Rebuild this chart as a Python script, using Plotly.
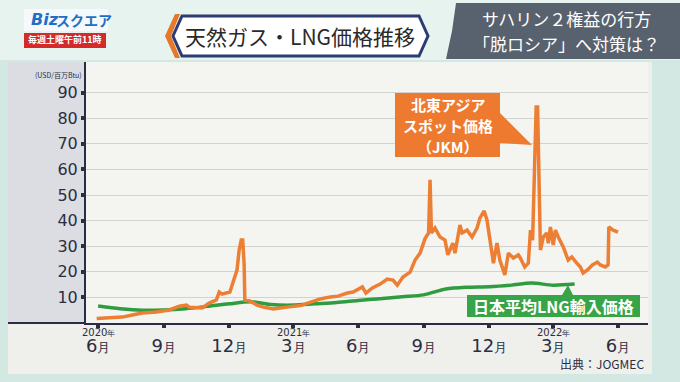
import plotly.graph_objects as go

# ---------------- data ----------------
jkm_dates = [
    "2020-06-29", "2020-07-17", "2020-08-04", "2020-08-18", "2020-09-01", "2020-09-21",
    "2020-10-09", "2020-10-23", "2020-11-02", "2020-11-06", "2020-11-24", "2020-12-04",
    "2020-12-14", "2020-12-18", "2020-12-22", "2021-01-02", "2021-01-06", "2021-01-12",
    "2021-01-15", "2021-01-18", "2021-01-20", "2021-01-22", "2021-01-23", "2021-01-30",
    "2021-02-09", "2021-02-18", "2021-03-04", "2021-03-13", "2021-03-23", "2021-04-11",
    "2021-04-25", "2021-05-09", "2021-05-23", "2021-06-03", "2021-06-16", "2021-06-24",
    "2021-07-07", "2021-07-12", "2021-07-21", "2021-08-01", "2021-08-11", "2021-08-19",
    "2021-08-25", "2021-09-02", "2021-09-12", "2021-09-19", "2021-09-26", "2021-10-03",
    "2021-10-08", "2021-10-10", "2021-10-12", "2021-10-17", "2021-10-24", "2021-10-31",
    "2021-11-04", "2021-11-11", "2021-11-14", "2021-11-21", "2021-11-24", "2021-12-01",
    "2021-12-08", "2021-12-15", "2021-12-19", "2021-12-25", "2021-12-29", "2022-01-02",
    "2022-01-07", "2022-01-12", "2022-01-16", "2022-01-23", "2022-01-28", "2022-02-04",
    "2022-02-11", "2022-02-13", "2022-02-20", "2022-02-25", "2022-02-28", "2022-03-03",
    "2022-03-05", "2022-03-08", "2022-03-10", "2022-03-12", "2022-03-14", "2022-03-18",
    "2022-03-23", "2022-03-25", "2022-03-28", "2022-04-01", "2022-04-04", "2022-04-08",
    "2022-04-15", "2022-04-22", "2022-04-27", "2022-05-04", "2022-05-09", "2022-05-13",
    "2022-05-19", "2022-05-26", "2022-06-02", "2022-06-06", "2022-06-13", "2022-06-17",
    "2022-06-18", "2022-06-24", "2022-07-01",
]
jkm_values = [
    1.8, 2.0, 2.3, 3.1, 3.9, 4.3,
    5.1, 6.6, 7.0, 6.2, 5.9, 7.8,
    9.0, 12.1, 11.3, 12.1, 15.6, 20.7,
    28.5, 32.4, 32.4, 23.0, 9.0, 8.6,
    7.0, 6.2, 5.5, 5.9, 6.2, 6.8,
    8.2, 9.4, 10.2, 10.5, 11.7, 12.1,
    14.1, 11.7, 13.7, 15.2, 17.2, 16.8,
    14.8, 18.0, 19.9, 24.6, 27.3, 33.0,
    35.2, 56.0, 35.2, 37.1, 33.6, 32.4,
    26.6, 31.2, 27.3, 38.3, 35.2, 36.3,
    33.6, 37.1, 41.0, 43.8, 40.2, 32.4,
    23.4, 31.2, 24.6, 18.8, 27.3, 25.4,
    26.6, 25.8, 21.9, 23.4, 36.3, 32.4,
    58.6, 84.4, 84.4, 52.0, 28.5, 33.6,
    35.2, 31.2, 37.5, 30.5, 36.3, 33.6,
    29.7, 24.6, 25.8, 23.4, 21.9, 19.5,
    20.7, 22.7, 23.8, 22.7, 21.9, 22.7,
    37.5, 36.3, 35.5,
]

lng_dates = [
    "2020-07-01", "2020-08-01", "2020-09-01", "2020-10-01", "2020-11-01", "2020-12-01",
    "2021-01-01", "2021-02-01", "2021-03-01", "2021-04-01", "2021-05-01", "2021-06-01",
    "2021-07-01", "2021-08-01", "2021-09-01", "2021-10-01", "2021-11-01", "2021-12-01",
    "2022-01-01", "2022-02-01", "2022-03-01", "2022-04-01", "2022-05-01",
]
lng_values = [
    6.6, 5.6, 5.0, 5.1, 5.6, 6.5,
    7.5, 8.3, 7.2, 7.0, 7.5, 8.0,
    8.8, 9.5, 10.3, 11.0, 13.3, 14.0,
    14.2, 14.8, 15.6, 14.8, 15.2,
]

tick_dates = ["2020-07-01", "2020-10-01", "2021-01-01", "2021-04-01", "2021-07-01",
              "2021-10-01", "2022-01-01", "2022-04-01", "2022-07-01"]
tick_months = ["6", "9", "12", "3", "6", "9", "12", "3", "6"]
year_tick_dates = ["2020-07-01", "2021-04-01", "2022-04-01"]
year_labels = ["2020", "2021", "2022"]
y_ticks = [10, 20, 30, 40, 50, 60, 70, 80, 90]

# ---------------- layout helpers ----------------
W, H = 680, 382
L, R, T, B = 86, 32, 62, 59
PW, PH = W - L - R, H - T - B
AX_Y = H - B


def px(x):
    return (x - L) / PW


def py(y):
    return (AX_Y - y) / PH


def path(points):
    return "M " + " L ".join(f"{px(x):.5f},{py(y):.5f}" for x, y in points) + " Z"


JP = "Noto Sans CJK JP, Noto Sans, sans-serif"
NUM = "DejaVu Sans, Noto Sans, sans-serif"
DARK = "#2b2d42"
ORANGE = "#ec7f33"
GREEN = "#2f9c3f"

fig = go.Figure()
fig.add_trace(go.Scatter(x=lng_dates, y=lng_values, mode="lines",
                         line=dict(color=GREEN, width=3.5, shape="spline", smoothing=0.8),
                         hoverinfo="skip", showlegend=False))
fig.add_trace(go.Scatter(x=jkm_dates, y=jkm_values, mode="lines",
                         line=dict(color=ORANGE, width=3.5),
                         hoverinfo="skip", showlegend=False))

shapes = []


def rect(x0, y0, x1, y1, color, layer="below", line=None):
    d = dict(type="rect", xref="paper", yref="paper", x0=px(x0), x1=px(x1),
             y0=py(y1), y1=py(y0), fillcolor=color, layer=layer,
             line=line or dict(width=0))
    shapes.append(d)


# background pieces
rect(0, 0, 680, 60, "#e7f3ef")
rect(8, 62, 652, 374, "#efefec")
rect(8, 62, 86, 323, "#dcdde3")
rect(86, 62, 648, 323, "#f4f4f1")
# axis line extension to the left
shapes.append(dict(type="line", xref="paper", yref="paper", x0=px(8), x1=px(86),
                   y0=py(323), y1=py(323), line=dict(color=DARK, width=2), layer="above"))

# header: logo
rect(24, 9, 108, 31, "#f5f9fc")
rect(24, 33, 106, 48, "#d42a2a")
# header: title hexagon
shapes.append(dict(type="path", xref="paper", yref="paper",
                   path=path([(165, 36), (175, 14), (180, 14), (171, 36), (180, 58), (175, 58)]),
                   fillcolor="#e6782c", line=dict(width=0), layer="above"))
shapes.append(dict(type="path", xref="paper", yref="paper",
                   path=path([(173, 36), (182, 16), (419, 16), (428, 36), (419, 56), (182, 56)]),
                   fillcolor="#ffffff", line=dict(color="#2c3c72", width=3), layer="above"))
# header: right dark box
shapes.append(dict(type="path", xref="paper", yref="paper",
                   path=path([(456, 3), (680, 3), (680, 59), (446, 59), (452, 31)]),
                   fillcolor="#58626e", line=dict(width=0), layer="above"))

# orange callout
shapes.append(dict(type="path", xref="paper", yref="paper",
                   path=path([(395, 93), (500, 93), (500, 113), (532, 145), (500, 143), (500, 157), (395, 157)]),
                   fillcolor="#ee7a2f", line=dict(width=0), layer="above"))
# green label
shapes.append(dict(type="path", xref="paper", yref="paper",
                   path=path([(467, 295), (562, 295), (568, 285), (573, 295), (640, 295), (640, 317), (467, 317)]),
                   fillcolor="#36a447", line=dict(width=0), layer="above"))

annotations = []


def text(x, y, s, size, color, family=JP, xanchor="center", yanchor="middle", xref="paper"):
    annotations.append(dict(x=px(x) if xref == "paper" else x, y=py(y), xref=xref, yref="paper",
                            text=s, showarrow=False, xanchor=xanchor, yanchor=yanchor,
                            font=dict(size=size, color=color, family=family)))


# year labels under ticks
for d, yl in zip(year_tick_dates, year_labels):
    annotations.append(dict(x=d, y=py(332), xref="x", yref="paper",
                            text=f"{yl}<span style='font-size:8px'>年</span>", showarrow=False,
                            xanchor="center", yanchor="middle",
                            font=dict(size=10, color=DARK, family=NUM)))

text(58, 75, "(USD/百万Btu)", 7, DARK)
text(646, 363, "出典：JOGMEC", 12, DARK, xanchor="right")

text(448, 104, "<b>北東アジア</b>", 15, "white")
text(448, 125, "<b>スポット価格</b>", 15, "white")
text(448, 146, "<b>（JKM）</b>", 15, "white")
text(553, 306, "<b>日本平均LNG輸入価格</b>", 16, "white")

# header texts
text(29, 20, "<b><i>Biz</i></b>", 16, "#1f6fc4", family="DejaVu Sans", xanchor="left")
text(84, 20, "<b>スクエア</b>", 14, "#1f6fc4")
text(65, 40, "<b>毎週土曜午前11時</b>", 9, "white")
text(300, 36, "天然ガス・LNG価格推移", 21, "#2a2a2a")
text(566, 19, "サハリン２権益の行方", 17, "white")
text(566, 43, "「脱ロシア」へ対策は？", 17, "white")

fig.update_layout(
    width=W, height=H,
    margin=dict(l=L, r=R, t=T, b=B),
    paper_bgcolor="#d3e8e2",
    plot_bgcolor="rgba(0,0,0,0)",
    shapes=shapes,
    annotations=annotations,
    showlegend=False,
    hovermode=False,
    xaxis=dict(
        type="date",
        range=["2020-06-14", "2022-08-12"],
        tickvals=tick_dates,
        ticktext=[f"{m}<span style='font-size:13px'>月</span>" for m in tick_months],
        tickfont=dict(size=18, color=DARK, family=NUM),
        ticks="outside", ticklen=3, tickwidth=4, tickcolor=DARK,
        ticklabelstandoff=2,
        showline=True, linecolor=DARK, linewidth=2,
        showgrid=False, zeroline=False,
    ),
    yaxis=dict(
        range=[0, 102],
        tickvals=y_ticks,
        tickfont=dict(size=16, color=DARK, family=NUM),
        ticks="outside", ticklen=3, tickwidth=4, tickcolor=DARK,
        showline=True, linecolor=DARK, linewidth=2,
        showgrid=True, gridcolor="#d2d2d0", gridwidth=1,
        zeroline=False,
    ),
)

fig.write_html(
    "out.html",
    config={"displayModeBar": False},
    post_script="document.body.style.margin='0';document.documentElement.style.overflow='hidden';",
)
